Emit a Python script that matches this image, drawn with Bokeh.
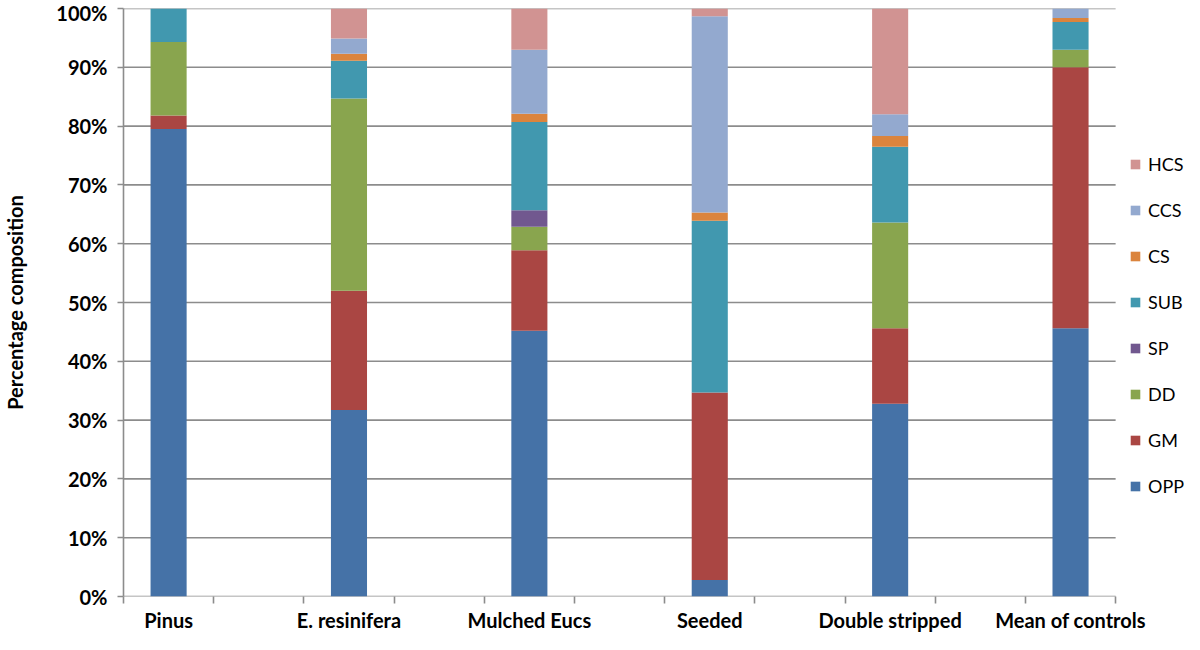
from bokeh.plotting import figure
from bokeh.models import Range1d, FixedTicker, PrintfTickFormatter, Legend, LegendItem, ColumnDataSource
from bokeh.embed import file_html
from bokeh.resources import INLINE

categories = ["Pinus", "E. resinifera", "Mulched Eucs", "Seeded", "Double stripped", "Mean of controls"]
series = ["OPP", "GM", "DD", "SP", "SUB", "CS", "CCS", "HCS"]
OPP = [79.5, 31.7, 45.2, 2.8, 32.8, 45.6]
GM = [2.3, 20.3, 13.7, 31.9, 12.8, 44.4]
DD = [12.5, 32.7, 4.0, 0.0, 18.0, 3.0]
SP = [0.0, 0.0, 2.8, 0.0, 0.0, 0.0]
SUB = [5.7, 6.4, 15.0, 29.2, 12.9, 4.7]
CS = [0.0, 1.2, 1.4, 1.4, 1.8, 0.7]
CCS = [0.0, 2.6, 10.9, 33.4, 3.7, 1.6]
HCS = [0.0, 5.1, 7.0, 1.3, 18.0, 0.0]
colors = ["#4572A7", "#AA4643", "#89A54E", "#71588F", "#4198AF", "#DB843D", "#93A9CF", "#D19392"]
y_ticks = [0, 10, 20, 30, 40, 50, 60, 70, 80, 90, 100]

FONT = "Lato"
GRID = "#8c8c8c"
GRID_W = 1.6

W, H = 1184, 634
LEFT, TOP, BOTTOM = 121, 8, 30
PLOT_PX = 994  # width of the category area in pixels; legend sits to its right

# each category occupies a slot, with an empty slot in between
slots = [2 * i for i in range(len(categories))]
n_slots = 2 * len(categories) - 1
x_start = -0.5
x_data_end = n_slots - 0.5
frame_w = W - LEFT
x_end = x_start + (x_data_end - x_start) * frame_w / PLOT_PX

src = ColumnDataSource(dict(x=slots, OPP=OPP, GM=GM, DD=DD, SP=SP, SUB=SUB, CS=CS, CCS=CCS, HCS=HCS))

p = figure(width=W, height=H, output_backend="svg", toolbar_location=None,
           x_range=Range1d(x_start, x_end), y_range=Range1d(0, 100),
           min_border_left=LEFT, min_border_right=0, min_border_top=TOP, min_border_bottom=BOTTOM)
p.outline_line_color = None
p.background_fill_color = "white"
p.border_fill_color = "white"
p.xgrid.visible = False
p.ygrid.visible = False

# horizontal gridlines only over the category area
p.segment(x0=[x_start] * len(y_ticks), x1=[x_data_end] * len(y_ticks), y0=y_ticks, y1=y_ticks,
          line_color=GRID, line_width=GRID_W)

renderers = p.vbar_stack(series, x="x", width=0.4, source=src, color=colors, line_color=None)

# y axis
p.yaxis.ticker = FixedTicker(ticks=y_ticks)
p.yaxis.formatter = PrintfTickFormatter(format="%d%%")
p.yaxis.axis_line_color = GRID
p.yaxis.axis_line_width = GRID_W
p.yaxis.major_tick_line_color = GRID
p.yaxis.major_tick_line_width = GRID_W
p.yaxis.major_tick_out = 6
p.yaxis.major_tick_in = 0
p.yaxis.minor_tick_line_color = None
p.yaxis.major_label_text_font = FONT
p.yaxis.major_label_text_font_style = "bold"
p.yaxis.major_label_text_font_size = "20px"
p.yaxis.major_label_text_color = "black"
p.yaxis.major_label_standoff = 10
p.yaxis.axis_label = "Percentage composition"
p.yaxis.axis_label_text_font = FONT
p.yaxis.axis_label_text_font_style = "bold"
p.yaxis.axis_label_text_font_size = "20px"
p.yaxis.axis_label_text_color = "black"
p.yaxis.axis_label_standoff = 26

# x axis: labels at bar centres, tick marks at slot boundaries
bounds = [s - 0.5 for s in range(n_slots + 1)]
p.xaxis.ticker = FixedTicker(ticks=slots, minor_ticks=bounds)
p.xaxis.major_label_overrides = {s: c for s, c in zip(slots, categories)}
p.xaxis.axis_line_color = None
p.xaxis.major_tick_line_color = None
p.xaxis.minor_tick_line_color = GRID
p.xaxis.minor_tick_line_width = GRID_W
p.xaxis.minor_tick_out = 7
p.xaxis.minor_tick_in = 0
p.xaxis.major_label_text_font = FONT
p.xaxis.major_label_text_font_style = "bold"
p.xaxis.major_label_text_font_size = "20px"
p.xaxis.major_label_text_color = "black"
p.xaxis.major_label_standoff = 4

items = [LegendItem(label=name, renderers=[r]) for name, r in zip(series, renderers)][::-1]
legend = Legend(items=items, location=(1006, 99), orientation="vertical",
                background_fill_alpha=0, border_line_alpha=0, padding=0, margin=0,
                glyph_width=12, glyph_height=12, label_standoff=7,
                label_text_font=FONT, label_text_font_size="18px", label_text_color="black",
                label_height=23, spacing=23)
p.add_layout(legend)

open("out.html", "w").write(file_html(p, INLINE))
